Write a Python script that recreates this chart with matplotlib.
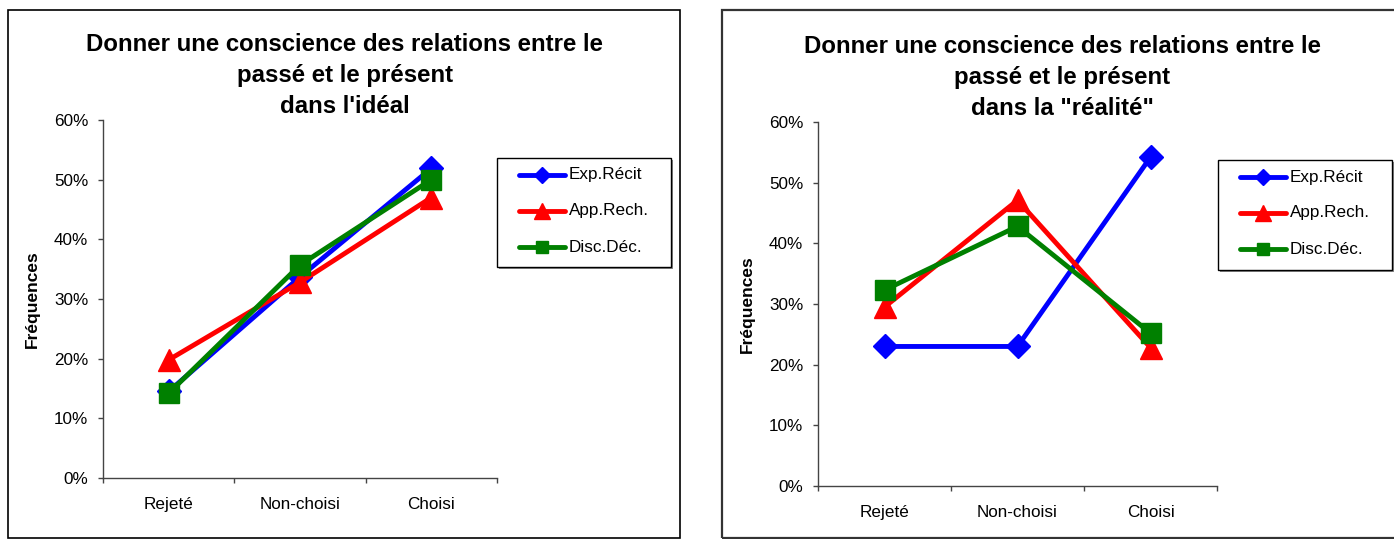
import numpy as np
import matplotlib
matplotlib.use("Agg")
import matplotlib.pyplot as plt
from matplotlib.patches import Rectangle
from matplotlib.lines import Line2D
from matplotlib.ticker import FuncFormatter

plt.rcParams['font.family'] = ['Liberation Sans', 'DejaVu Sans']

categories = ['Rejeté', 'Non-choisi', 'Choisi']
series_names = ['Exp.Récit', 'App.Rech.', 'Disc.Déc.']

# left chart : dans l'idéal
ideal_exp = [0.145, 0.337, 0.519]
ideal_app = [0.198, 0.328, 0.470]
ideal_disc = [0.142, 0.357, 0.500]

# right chart : dans la "réalité"
real_exp = [0.230, 0.230, 0.542]
real_app = [0.295, 0.471, 0.228]
real_disc = [0.323, 0.428, 0.252]

titles = ["Donner une conscience des relations entre le\npassé et le présent\ndans l'idéal",
          "Donner une conscience des relations entre le\npassé et le présent\ndans la \"réalité\""]

colors = ['#0000FF', '#FF0000', '#008000']
markers = ['D', '^', 's']
msizes = [12, 16, 14]      # markers on the chart
leg_msizes = [8, 11, 9]      # markers in the legend

W, H = 1394, 539
fig = plt.figure(figsize=(W / 100, H / 100), dpi=100)

def fx(px):
    return px / W

def fy(py):
    return 1 - py / H

# panel borders
fig.patches.append(Rectangle((fx(8), fy(538)), fx(672), 528 / H, transform=fig.transFigure,
                             fill=False, edgecolor='black', linewidth=1.2))
fig.patches.append(Rectangle((fx(722), fy(538)), fx(680), 528 / H, transform=fig.transFigure,
                             fill=False, edgecolor='#333333', linewidth=1.6))

panels = [
    dict(ax=(103, 120, 497, 478), data=[ideal_exp, ideal_app, ideal_disc], title=titles[0],
         tx=345, ty=75.5, ylab_x=32, leg=(497, 158, 671, 267)),
    dict(ax=(818, 122, 1217, 486), data=[real_exp, real_app, real_disc], title=titles[1],
         tx=1062, ty=77.5, ylab_x=747, leg=(1218, 160, 1392, 270)),
]

pct = FuncFormatter(lambda v, p: '{:.0f}%'.format(v * 100))

for p in panels:
    x0, y0, x1, y1 = p['ax']
    ax = fig.add_axes([fx(x0), fy(y1), fx(x1 - x0), (y1 - y0) / H])
    x = np.arange(len(categories))
    for vals, name, c, m, ms in zip(p['data'], series_names, colors, markers, msizes):
        ax.plot(x, vals, color=c, linewidth=3.5, marker=m, markersize=ms,
                markeredgecolor=c, label=name, clip_on=False)
    ax.set_xlim(-0.5, 2.5)
    ax.set_ylim(0, 0.6)
    ax.set_yticks(np.arange(0, 0.61, 0.1))
    ax.yaxis.set_major_formatter(pct)
    ax.set_xticks([-0.5, 0.5, 1.5, 2.5])
    ax.set_xticklabels([])
    ax.set_xticks(x, minor=True)
    ax.set_xticklabels(categories, minor=True)
    ax.tick_params(axis='x', which='major', length=3.6, color='#444444', width=1)
    ax.tick_params(axis='x', which='minor', length=0, pad=14, labelsize=12.3)
    ax.tick_params(axis='y', length=3.6, color='#444444', width=1, labelsize=12.3, pad=7)
    for s in ['top', 'right']:
        ax.spines[s].set_visible(False)
    for s in ['left', 'bottom']:
        ax.spines[s].set_color('#444444')
        ax.spines[s].set_linewidth(1)
    fig.text(fx(p['tx']), fy(p['ty']), p['title'], ha='center', va='center',
             fontsize=17.3, fontweight='bold', linespacing=1.47)
    fig.text(fx(p['ylab_x']), fy((y0 + y1) / 2), 'Fréquences', rotation=90,
             ha='center', va='center', fontsize=12.5, fontweight='bold')

    # legend box drawn like the Excel one
    lx0, ly0, lx1, ly1 = p['leg']
    fig.patches.append(Rectangle((fx(lx0 + 2), fy(ly1 + 2)), fx(lx1 - lx0), (ly1 - ly0) / H,
                                 transform=fig.transFigure, facecolor='#888888',
                                 edgecolor='none', zorder=5))
    fig.patches.append(Rectangle((fx(lx0), fy(ly1)), fx(lx1 - lx0), (ly1 - ly0) / H,
                                 transform=fig.transFigure, facecolor='white',
                                 edgecolor='black', linewidth=1, zorder=6))
    for i, (name, c, m, ms) in enumerate(zip(series_names, colors, markers, leg_msizes)):
        yy = fy(ly0 + 17 + i * 36)
        fig.add_artist(Line2D([fx(lx0 + 22), fx(lx0 + 68)], [yy, yy], transform=fig.transFigure,
                              color=c, linewidth=3.5, solid_capstyle='round', zorder=7))
        fig.add_artist(Line2D([fx(lx0 + 45)], [yy], transform=fig.transFigure, color=c,
                              marker=m, markersize=ms, markeredgecolor=c, zorder=8))
        fig.text(fx(lx0 + 72), yy, name, ha='left', va='center', fontsize=12.3, zorder=9)

fig.savefig('out.png', dpi=100)
